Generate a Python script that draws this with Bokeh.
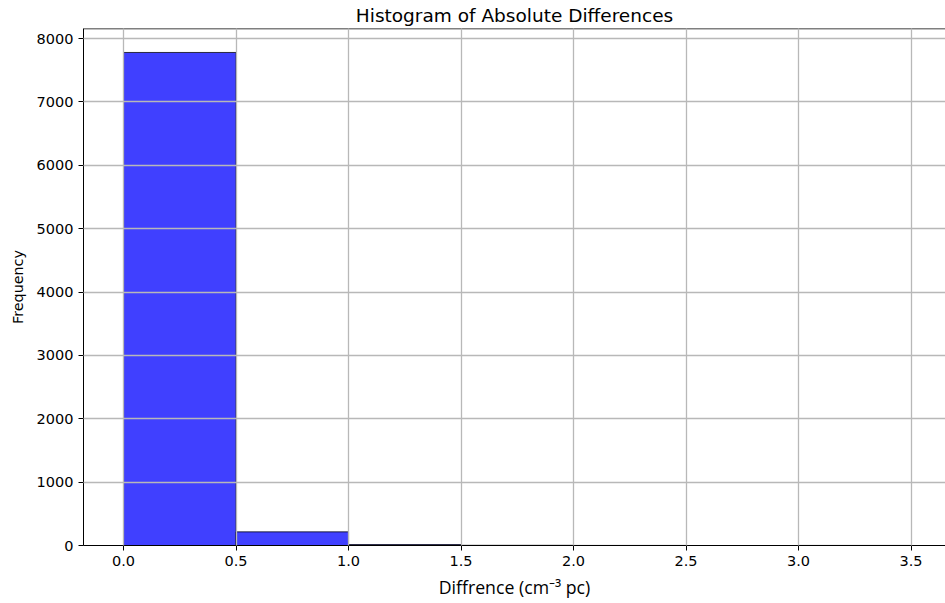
from bokeh.plotting import figure
from bokeh.models import Range1d, FixedTicker, PrintfTickFormatter, Span
from bokeh.embed import file_html
from bokeh.resources import INLINE

# Data
bin_left = [0.0, 0.5, 1.0, 1.5, 2.0, 2.5, 3.0]
bin_right = [0.5, 1.0, 1.5, 2.0, 2.5, 3.0, 3.5]
counts = [7780, 215, 15, 3, 1, 0, 1]
x_ticks = [0.0, 0.5, 1.0, 1.5, 2.0, 2.5, 3.0, 3.5]
y_ticks = [0, 1000, 2000, 3000, 4000, 5000, 6000, 7000, 8000]

y_max = 8158
p = figure(width=945, height=603, output_backend="svg", toolbar_location=None,
           x_range=Range1d(-0.178, 3.653), y_range=Range1d(0, y_max),
           title="Histogram of Absolute Differences",
           min_border_left=83, min_border_right=0, min_border_top=28, min_border_bottom=58)

p.quad(left=bin_left, right=bin_right, bottom=0, top=counts,
       fill_color="blue", fill_alpha=0.75, line_color="black", line_alpha=0.75, line_width=1)

p.title.text_font = "DejaVu Sans"
p.title.text_font_size = "18.5px"
p.title.text_font_style = "normal"
p.title.align = "center"
p.title.text_color = "black"
p.title.standoff = 2
p.title.vertical_align = "top"

for ax in (p.xaxis[0], p.yaxis[0]):
    ax.major_label_text_font = "DejaVu Sans"
    ax.major_label_text_font_size = "14.5px"
    ax.major_label_text_color = "black"
    ax.major_tick_in = 0
    ax.major_tick_out = 5
    ax.minor_tick_line_color = None
    ax.axis_line_color = "black"
    ax.major_tick_line_color = "black"
    ax.axis_label_text_color = "black"

p.xaxis.ticker = FixedTicker(ticks=x_ticks)
p.yaxis.ticker = FixedTicker(ticks=y_ticks)
p.xaxis.formatter = PrintfTickFormatter(format="%.1f")
p.xaxis.axis_label = "Diffrence (cm\u207b\u00b3 pc)"
p.xaxis.axis_label_text_font = "Open Sans"
p.xaxis.axis_label_text_font_size = "17.7px"
p.xaxis.axis_label_text_font_style = "normal"
p.xaxis.axis_label_standoff = 6
p.yaxis.axis_label = "Frequency"
p.yaxis.axis_label_text_font = "DejaVu Sans"
p.yaxis.axis_label_text_font_size = "14.3px"
p.yaxis.axis_label_text_font_style = "normal"
p.yaxis.axis_label_standoff = 8

p.xgrid.grid_line_color = "#b8b8b8"
p.ygrid.grid_line_color = "#b8b8b8"
p.xgrid.grid_line_width = 1.3
p.ygrid.grid_line_width = 1.3
p.xgrid.level = "overlay"
p.ygrid.level = "overlay"
p.outline_line_color = None

# top spine only (the right spine lies outside the window in the reference)
top_spine = Span(location=y_max, dimension="width", line_color="black", line_width=1.5)
p.add_layout(top_spine)

open("out.html", "w").write(file_html(p, INLINE))
